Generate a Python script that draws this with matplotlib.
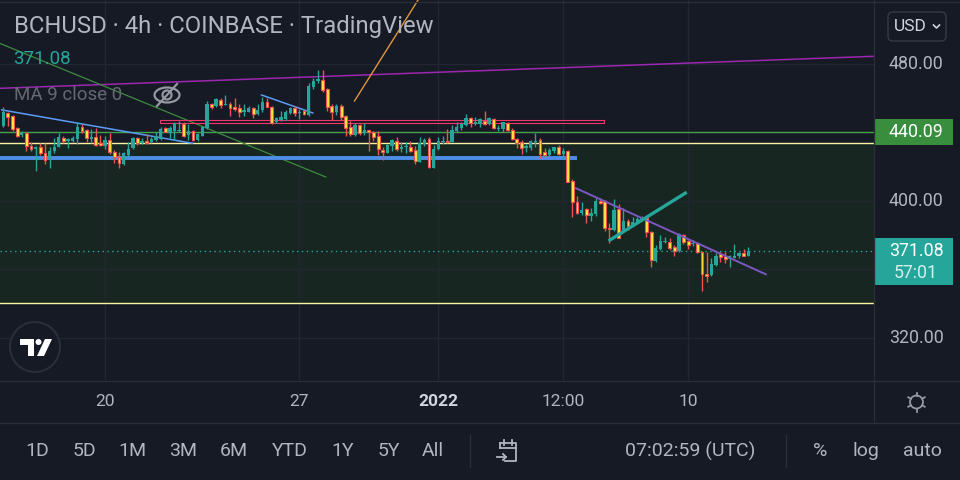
import matplotlib
matplotlib.use('Agg')
import matplotlib.pyplot as plt
from matplotlib.patches import Rectangle, FancyBboxPatch, Circle, Ellipse, Polygon
import numpy as np

plt.rcParams['font.family'] = ['Roboto', 'DejaVu Sans']

# ---------------- data (BCHUSD 4h candles) ----------------
opens = [443.8, 451.4, 449.8, 442.6, 438.6, 439.7, 432.1, 430.6, 431.5, 428.2,
         424.4, 429.2, 431.7, 437.0, 435.2, 435.2, 436.0, 443.4, 441.5, 436.2,
         437.2, 433.7, 432.3, 435.6, 428.5, 425.5, 421.6, 426.9, 430.8, 437.0,
         433.7, 435.2, 434.3, 435.6, 436.2, 442.5, 439.6, 440.9, 440.9, 445.2,
         438.6, 440.9, 435.6, 438.1, 442.5, 456.5, 455.7, 459.0, 456.1, 456.7,
         455.1, 454.5, 451.8, 452.2, 454.2, 450.8, 453.2, 458.0, 455.1, 446.0,
         447.3, 447.9, 451.2, 454.2, 451.6, 452.6, 450.2, 466.8, 470.3, 470.7,
         465.4, 455.7, 451.8, 455.5, 449.7, 443.1, 438.6, 444.4, 439.6, 441.3,
         440.1, 438.0, 429.8, 428.2, 432.3, 435.2, 430.2, 431.4, 431.7, 429.8,
         423.0, 433.3, 436.2, 419.5, 430.2, 434.3, 435.1, 434.6, 441.1, 442.5,
         444.4, 448.3, 445.2, 445.0, 446.9, 444.8, 447.7, 442.1, 442.1, 445.4,
         441.5, 436.0, 434.6, 430.8, 430.8, 434.6, 435.6, 428.5, 426.9, 429.2,
         431.4, 427.3, 429.4, 411.7, 399.6, 392.8, 395.2, 391.4, 392.4, 400.2,
         400.0, 384.4, 383.1, 395.4, 383.1, 388.3, 386.0, 387.6, 389.3, 390.3,
         381.7, 365.0, 372.0, 375.9, 375.9, 373.1, 370.8, 380.2, 376.6, 374.7,
         375.7, 370.4, 357.4, 356.8, 362.6, 368.9, 368.1, 366.1, 366.9, 368.1,
         369.5, 368.1]
highs = [454.9, 452.0, 450.4, 443.4, 441.1, 440.3, 434.6, 432.1, 434.1, 434.1,
         431.7, 436.8, 439.7, 438.0, 437.0, 438.0, 446.2, 444.8, 442.1, 441.9,
         442.5, 438.6, 438.1, 439.9, 429.8, 428.8, 428.8, 434.6, 437.6, 437.6,
         436.6, 439.1, 437.4, 440.5, 443.4, 443.4, 443.8, 446.3, 446.7, 446.0,
         444.8, 441.5, 439.5, 443.8, 458.4, 457.4, 460.3, 460.3, 461.9, 458.0,
         460.3, 456.5, 456.5, 455.2, 455.1, 456.7, 460.9, 460.3, 455.7, 449.2,
         452.6, 453.2, 455.1, 455.7, 453.7, 453.2, 468.8, 472.0, 476.5, 476.5,
         466.2, 456.5, 456.4, 456.5, 450.2, 446.7, 445.4, 445.0, 445.4, 441.5,
         440.9, 440.9, 431.7, 433.3, 436.2, 437.6, 434.3, 434.2, 435.1, 432.3,
         437.6, 436.6, 437.6, 432.7, 437.6, 438.1, 442.1, 444.4, 446.0, 446.0,
         450.6, 449.2, 449.2, 448.7, 452.6, 448.9, 448.3, 444.4, 446.3, 446.3,
         442.5, 436.6, 435.6, 433.1, 435.6, 439.6, 436.6, 430.8, 430.8, 431.7,
         432.7, 430.8, 429.8, 412.9, 402.9, 399.3, 395.8, 395.8, 401.9, 401.6,
         400.6, 387.2, 401.2, 398.1, 395.8, 389.5, 390.8, 390.7, 391.1, 390.8,
         382.5, 374.3, 380.1, 379.2, 378.2, 374.3, 381.2, 380.6, 377.2, 377.2,
         375.9, 370.8, 370.4, 366.5, 369.5, 370.4, 370.4, 368.5, 374.7, 370.4,
         372.0, 373.3]
lows = [443.4, 443.8, 441.1, 437.4, 437.4, 429.4, 429.4, 417.7, 426.9, 421.6,
        419.1, 428.0, 431.5, 433.9, 431.1, 434.6, 433.1, 439.9, 434.6, 433.7,
        432.3, 432.3, 430.4, 427.5, 422.0, 419.5, 421.0, 426.5, 430.4, 432.7,
        433.1, 433.1, 433.6, 435.1, 435.6, 440.1, 437.0, 435.6, 440.5, 437.6,
        435.6, 435.1, 435.2, 438.0, 442.1, 453.7, 455.1, 454.2, 456.1, 449.8,
        452.6, 449.2, 449.8, 451.7, 448.3, 450.2, 452.2, 454.7, 445.2, 445.4,
        446.7, 447.3, 450.6, 449.8, 447.9, 450.2, 449.8, 465.4, 468.8, 463.8,
        452.6, 447.3, 450.2, 447.3, 438.1, 438.1, 438.1, 438.6, 438.6, 429.2,
        435.1, 426.9, 424.0, 427.8, 429.2, 429.2, 428.8, 427.8, 428.5, 421.6,
        422.6, 432.3, 419.1, 419.1, 429.8, 433.1, 433.7, 434.3, 440.5, 441.5,
        443.8, 443.4, 444.4, 443.4, 444.4, 444.4, 442.1, 440.9, 440.1, 440.9,
        435.5, 431.1, 427.3, 428.8, 429.8, 431.7, 425.3, 425.9, 426.3, 428.2,
        426.9, 424.9, 410.9, 390.8, 392.2, 391.8, 387.3, 388.3, 391.4, 398.1,
        382.5, 375.3, 382.5, 378.2, 382.1, 383.1, 385.6, 387.0, 388.3, 379.2,
        361.6, 364.6, 371.4, 375.3, 371.4, 368.1, 370.4, 374.7, 372.0, 373.7,
        369.5, 347.5, 352.9, 356.4, 362.2, 364.6, 363.6, 361.6, 366.6, 366.9,
        367.9, 367.9]
closes = [452.2, 449.1, 441.9, 438.1, 439.7, 432.1, 430.6, 431.7, 428.0, 424.0,
          429.2, 431.7, 437.4, 435.2, 436.0, 436.6, 443.4, 440.9, 436.6, 437.6,
          432.7, 432.7, 435.6, 428.5, 425.9, 422.0, 427.9, 430.2, 436.6, 433.7,
          435.1, 433.7, 436.2, 438.0, 442.1, 440.5, 442.8, 444.8, 441.5, 438.1,
          440.9, 435.6, 439.0, 443.4, 456.5, 454.9, 459.4, 456.1, 456.5, 454.2,
          453.7, 452.2, 453.0, 454.5, 450.8, 453.2, 458.0, 455.1, 445.8, 448.7,
          449.2, 452.2, 454.2, 451.6, 452.2, 451.0, 467.4, 470.1, 471.1, 464.8,
          455.1, 452.2, 455.7, 449.2, 442.8, 439.0, 444.4, 439.9, 441.5, 440.1,
          437.6, 430.4, 428.5, 432.7, 435.6, 430.2, 431.7, 431.7, 429.2, 423.6,
          433.7, 435.6, 419.7, 430.4, 435.1, 435.1, 434.3, 441.5, 443.4, 445.0,
          448.7, 445.4, 446.0, 447.7, 444.8, 448.3, 442.5, 442.8, 446.0, 441.5,
          436.0, 434.1, 430.8, 432.1, 435.1, 435.1, 427.5, 426.9, 429.8, 431.4,
          427.5, 429.4, 411.3, 399.6, 392.8, 394.8, 391.8, 393.2, 400.0, 398.7,
          384.1, 383.5, 394.8, 378.6, 388.3, 385.6, 387.6, 389.5, 390.3, 381.7,
          365.7, 372.4, 376.6, 376.3, 372.7, 371.0, 380.6, 376.3, 374.3, 375.7,
          370.1, 357.2, 356.4, 363.2, 368.1, 367.5, 366.1, 367.7, 368.1, 369.6,
          368.1, 371.08]

tick_idx = [22, 64, 94, 121, 148]
tick_labels = ['20', '27', '2022', '12:00', '10']
price_labels = [480, 400, 320]
grid_prices = [320, 360, 400, 440, 480]
last_price = 371.08
countdown = '57:01'
green_level = 440.09
zone_top, zone_bottom = 433.6, 340.4
blue_level = 425.3
pink_box = (33.9, 129.9, 445.4, 447.1)          # x0, x1, p0, p1
magenta_pts = [(-0.71, 465.8), (188.2, 484.5)]
orange_pts = [(75.9, 458.4), (91.0, 523.2)]
green_diag_pts = [(-0.71, 492.0), (69.7, 414.0)]
blue_line1 = [(-0.35, 453.2), (40.9, 433.7)]
blue_line2 = [(55.8, 461.9), (66.9, 451.4)]
purple_pts = [(123.8, 407.4), (164.8, 357.2)]
teal_pts = [(130.8, 376.7), (147.7, 405.1)]
blue_level_end = 123.9
ranges = ['1D', '5D', '1M', '3M', '6M', 'YTD', '1Y', '5Y', 'All']

# ---------------- styling ----------------
BG = '#161a25'
GRID = '#222632'
SEP = '#2a2e39'
TXT = '#b2b5be'
UP = '#26a69a'
DN = '#ef5350'
YEL = '#ffeb3b'
ZONE_LINE = '#fbf3a0'

fig = plt.figure(figsize=(9.6, 4.8), dpi=100, facecolor=BG)

XMIN = -3.3 / 4.627
XMAX = (874 - 3.3) / 4.627
YMIN, YMAX = 295.47, 517.37

ax = fig.add_axes([0, 100 / 480, 874 / 960, 380 / 480])
ax.set_facecolor(BG)
ax.set_xlim(XMIN, XMAX)
ax.set_ylim(YMIN, YMAX)
for s in ax.spines.values():
    s.set_visible(False)
ax.set_xticks([])
ax.set_yticks([])

# zone + grid
ax.axhspan(zone_bottom, zone_top, color='#172620', zorder=0.5, lw=0)
for p in grid_prices:
    ax.axhline(p, color=GRID, lw=1, zorder=1)
for t in tick_idx:
    ax.axvline(t, color=GRID, lw=1, zorder=1)

ax.axhline(zone_top, color=ZONE_LINE, lw=1.0, zorder=2)
ax.axhline(zone_bottom, color=ZONE_LINE, lw=1.0, zorder=2)
ax.axhline(green_level, color='#43a047', lw=1.0, zorder=2)

# drawings
ax.axline(magenta_pts[0], magenta_pts[1], color='#9c27b0', lw=1.1, zorder=3)
ax.plot(*zip(*orange_pts), color='#e0963a', lw=1.0, zorder=3)
ax.plot(*zip(*green_diag_pts), color='#3d8b40', lw=0.9, zorder=3)
ax.plot(*zip(*blue_line1), color='#5b9cf6', lw=1.1, zorder=3)
ax.plot(*zip(*blue_line2), color='#5b9cf6', lw=1.1, zorder=3)
ax.plot([XMIN, blue_level_end], [blue_level, blue_level], color='#4e8ee8', lw=2.8,
        solid_capstyle='butt', zorder=3)
ax.add_patch(Rectangle((pink_box[0], pink_box[2]), pink_box[1] - pink_box[0],
                       pink_box[3] - pink_box[2], fill=False, edgecolor='#f0386b',
                       lw=0.8, zorder=3))
ax.axhline(last_price, color=UP, lw=1.0, ls=(0, (1, 2.5)), zorder=3)

# candles
o = np.array(opens); h = np.array(highs); l = np.array(lows); c = np.array(closes)
idx = np.arange(len(o))
up = c >= o
body = c - o
body = np.where(np.abs(body) < 0.6, np.where(up, 0.6, -0.6), body)
ax.vlines(idx[up], l[up], h[up], color=UP, lw=1.0, zorder=4)
ax.vlines(idx[~up], l[~up], h[~up], color=DN, lw=1.0, zorder=4)
ax.bar(idx[up], body[up], bottom=o[up], width=0.72, color=UP, lw=0, zorder=5)
ax.bar(idx[~up], body[~up], bottom=o[~up], width=0.62, color=YEL, edgecolor=DN,
       lw=0.8, zorder=5)

ax.plot(*zip(*purple_pts), color='#7e57c2', lw=1.4, zorder=6)
ax.plot(*zip(*teal_pts), color=UP, lw=2.4, solid_capstyle='butt', zorder=6)

# ---------------- price axis ----------------
pax = fig.add_axes([874 / 960, 100 / 480, 86 / 960, 380 / 480])
pax.set_facecolor(BG)
pax.set_xlim(0, 86)
pax.set_ylim(YMIN, YMAX)
pax.axis('off')
for p in price_labels:
    pax.text(42, p, f'{p:.2f}', color=TXT, fontsize=12.8, ha='center', va='center')
pax.add_patch(Rectangle((0, green_level - 7.6), 79, 15.2, color='#388e3c', lw=0))
pax.text(42, green_level, f'{green_level:.2f}', color='white', fontsize=12.8,
         ha='center', va='center')
pax.add_patch(Rectangle((0, last_price - 20.4), 79, 28.0, color=UP, lw=0))
pax.text(42, last_price, f'{last_price:.2f}', color='white', fontsize=12.8,
         ha='center', va='center')
pax.text(42, last_price - 12.85, countdown, color='#d4efec', fontsize=12.8,
         ha='center', va='center')

# ---------------- time axis ----------------
tax = fig.add_axes([0, 58 / 480, 874 / 960, 42 / 480])
tax.set_facecolor(BG)
tax.set_xlim(XMIN, XMAX)
tax.set_ylim(0, 1)
tax.axis('off')
for t, lab in zip(tick_idx, tick_labels):
    bold = lab == '2022'
    tax.text(t, 0.5, lab, color='#d1d4dc' if bold else TXT, fontsize=12.5,
             fontweight='bold' if bold else 'normal', ha='center', va='center')

# ---------------- overlay (pixel coordinates) ----------------
ov = fig.add_axes([0, 0, 1, 1])
ov.set_xlim(0, 960)
ov.set_ylim(480, 0)
ov.axis('off')
ov.patch.set_alpha(0)

# separators
ov.plot([873.5, 873.5], [0, 422], color=SEP, lw=1)
ov.plot([0, 960], [380.5, 380.5], color=SEP, lw=1)
ov.plot([0, 960], [422.5, 422.5], color=SEP, lw=1)
ov.plot([0, 960], [1.5, 1.5], color=SEP, lw=1)
ov.plot([470, 470], [435, 467], color=SEP, lw=1)
ov.plot([786, 786], [435, 467], color=SEP, lw=1)

# header
ov.text(14, 26, 'BCHUSD · 4h · COINBASE · TradingView', color=TXT, fontsize=17.2,
        ha='left', va='center')
ov.text(13, 59, f'{last_price:.2f}', color=UP, fontsize=13.5, ha='left', va='center')
ov.text(14, 95, 'MA 9 close 0', color='#656873', fontsize=13.5, ha='left', va='center')
# eye-crossed icon
ov.add_patch(Ellipse((167, 95), 25, 15, fill=False, edgecolor='#9598a1', lw=1.6))
ov.add_patch(Circle((167, 95), 4.5, fill=False, edgecolor='#9598a1', lw=1.6))
ov.plot([157, 177], [106, 84], color='#9598a1', lw=1.6)

# USD box
ov.add_patch(FancyBboxPatch((888, 12), 58, 29, boxstyle='round,pad=0,rounding_size=5',
                            fill=False, edgecolor='#363a45', lw=1))
ov.text(910, 26.5, 'USD', color='#d1d4dc', fontsize=12.5, ha='center', va='center')
ov.plot([933.5, 936.5, 939.5], [25, 28, 25], color='#d1d4dc', lw=1.2)

# TV logo
ov.add_patch(Circle((35, 347), 25, facecolor=BG, edgecolor='#2a2e39', lw=1.5))
ov.add_patch(Polygon([(20, 339), (34, 339), (34, 356), (28, 356), (28, 345), (20, 345)],
                     closed=True, color='white', lw=0))
ov.add_patch(Circle((38.5, 342), 3, color='white', lw=0))
ov.add_patch(Polygon([(45, 339), (52, 339), (44, 356), (37, 356)], closed=True,
                     color='white', lw=0))

# gear / settings icon
ov.add_patch(Circle((916.5, 402), 6.5, fill=False, edgecolor='#9598a1', lw=1.3))
for ang in np.deg2rad([90, 270, 30, 150, 210, 330]):
    ov.plot([916.5 + 6.5 * np.cos(ang), 916.5 + 9.5 * np.cos(ang)],
            [402 + 6.5 * np.sin(ang), 402 + 9.5 * np.sin(ang)], color='#9598a1', lw=1.3)

# bottom toolbar
range_x = [37, 84, 132, 183, 234, 290, 343, 389, 433]
for xx, lab in zip(range_x, ranges):
    ov.text(xx, 451, lab, color=TXT, fontsize=14, ha='center', va='center')
# calendar icon
ov.plot([500, 500], [448, 443], color=TXT, lw=1.3)
ov.plot([500, 516, 516, 505], [443, 443, 461, 461], color=TXT, lw=1.3)
ov.plot([500, 516], [448, 448], color=TXT, lw=1.3)
ov.plot([504, 504], [440, 445], color=TXT, lw=1.3)
ov.plot([512, 512], [440, 445], color=TXT, lw=1.3)
ov.plot([497, 506], [457, 457], color=TXT, lw=1.3)
ov.plot([503, 506, 503], [454, 457, 460], color=TXT, lw=1.3)

ov.text(690, 451, '07:02:59 (UTC)', color=TXT, fontsize=14, ha='center', va='center')
ov.text(820, 451, '%', color=TXT, fontsize=14, ha='center', va='center')
ov.text(866, 451, 'log', color=TXT, fontsize=14, ha='center', va='center')
ov.text(922, 451, 'auto', color=TXT, fontsize=14, ha='center', va='center')

fig.savefig('out.png', dpi=100, facecolor=BG)
